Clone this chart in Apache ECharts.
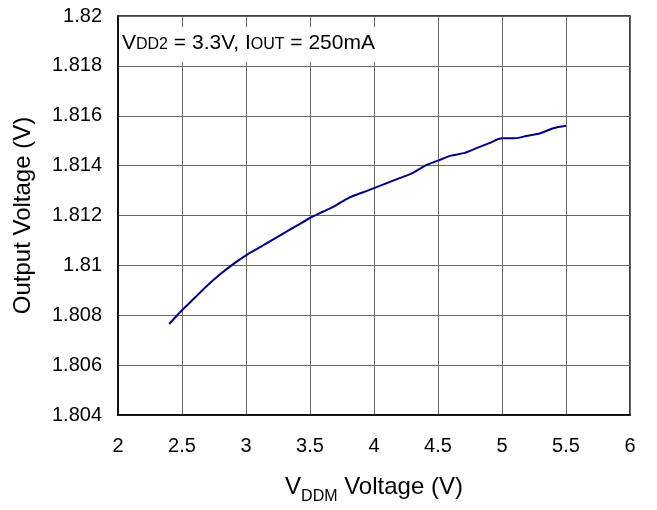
<!DOCTYPE html>
<html>
<head>
<meta charset="utf-8">
<script src="https://cdn.jsdelivr.net/npm/echarts@6/dist/echarts.min.js"></script>
<style>html,body{margin:0;padding:0;background:#fff}#c{width:657px;height:510px}</style>
</head>
<body>
<div id="c"></div>
<script>
const vddm = [2.4,2.5,2.6,2.7,2.8,2.9,3.0,3.1,3.2,3.3,3.4,3.5,3.6,3.7,3.8,3.9,4.0,4.1,4.2,4.3,4.4,4.5,4.6,4.7,4.8,4.9,5.0,5.1,5.2,5.3,5.4,5.5];
const vout = [1.80765,1.8082,1.8087,1.8092,1.80965,1.81005,1.8104,1.8107,1.8110,1.8113,1.8116,1.8119,1.81215,1.8124,1.8127,1.8129,1.8131,1.8133,1.8135,1.8137,1.8140,1.8142,1.8144,1.8145,1.8147,1.8149,1.8151,1.8151,1.8152,1.8153,1.8155,1.8156];
const xTicks = {min: 2, max: 6, interval: 0.5};
const yTicks = {min: 1.804, max: 1.82, interval: 0.002};

const FONT = 'Liberation Sans, Arial, sans-serif';
const chart = echarts.init(document.getElementById('c'), null, {renderer: 'canvas'});
chart.setOption({
  animation: false,
  backgroundColor: '#fff',
  grid: {left: 118, right: 27, top: 16, bottom: 93, show: true, borderColor: '#000', borderWidth: 1.5, containLabel: false},
  title: {
    text: '{b|V}{s|DD2}{b| = 3.3V, I}{s|OUT}{b| = 250mA}',
    left: 119, top: 24,
    backgroundColor: '#fff',
    padding: [6, 14, 8, 3],
    textStyle: {
      fontWeight: 'normal',
      rich: {
        b: {fontFamily: FONT, fontSize: 21, fontWeight: 'normal', color: '#000', verticalAlign: 'bottom', lineHeight: 24},
        s: {fontFamily: FONT, fontSize: 16, fontWeight: 'normal', color: '#000', verticalAlign: 'bottom', lineHeight: 24, padding: [0,0,1,0]}
      }
    }
  },
  xAxis: {
    type: 'value', min: xTicks.min, max: xTicks.max, interval: xTicks.interval,
    name: '{b|V}{s|DDM}{b| Voltage (V)}',
    nameLocation: 'middle', nameGap: 60,
    nameTextStyle: {
      rich: {
        b: {fontFamily: FONT, fontSize: 24, color: '#000', verticalAlign: 'top', lineHeight: 30},
        s: {fontFamily: FONT, fontSize: 16, color: '#000', verticalAlign: 'bottom', lineHeight: 21}
      }
    },
    axisLine: {show: true, lineStyle: {color: '#000', width: 1.5}},
    axisTick: {show: false},
    axisLabel: {fontFamily: FONT, fontSize: 20, color: '#000', margin: 21},
    splitLine: {show: true, lineStyle: {color: '#666', width: 1}}
  },
  yAxis: {
    type: 'value', min: yTicks.min, max: yTicks.max, interval: yTicks.interval,
    name: 'Output Voltage (V)',
    nameLocation: 'middle', nameGap: 83, nameRotate: 90,
    nameTextStyle: {fontFamily: FONT, fontSize: 24, color: '#000'},
    axisLine: {show: true, lineStyle: {color: '#000', width: 1.5}},
    axisTick: {show: false},
    axisLabel: {fontFamily: FONT, fontSize: 20, color: '#000', margin: 16},
    splitLine: {show: true, lineStyle: {color: '#666', width: 1}}
  },
  series: [{
    type: 'line',
    data: vddm.map((v, i) => [v, vout[i]]),
    showSymbol: false,
    smooth: 0.3,
    lineStyle: {color: '#000080', width: 2},
    z: 3
  }]
});
</script>
</body>
</html>
